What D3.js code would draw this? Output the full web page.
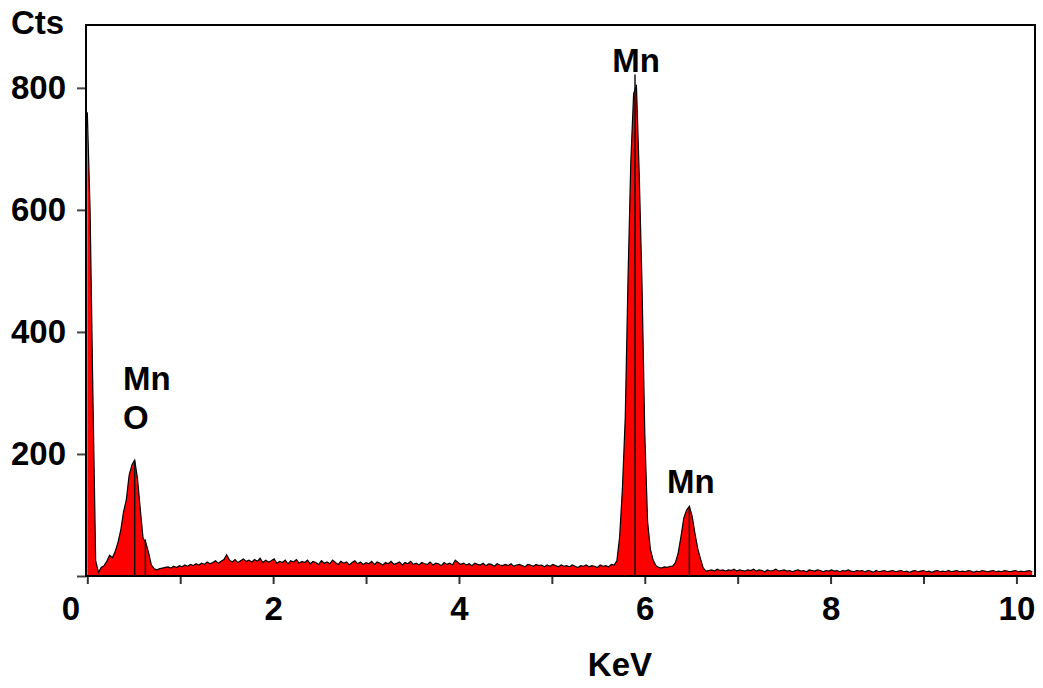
<!DOCTYPE html>
<html>
<head>
<meta charset="utf-8">
<script src="https://cdn.jsdelivr.net/npm/d3@7"></script>
<style>
  html, body { margin: 0; padding: 0; background: #fff; }
  svg { display: block; }
  text { font-family: "Liberation Sans", Arial, sans-serif; font-weight: bold; fill: #000; }
</style>
</head>
<body>
<svg id="chart" width="1043" height="688"></svg>
<script>
// ---- Data ----
const channelWidth = 0.03; // keV per channel
const counts = [
  760, 600, 300, 25, 6, 14, 17, 24, 34, 30,
  40, 55, 75, 105, 125, 165, 182, 190, 160, 110,
  62, 55, 38, 18, 12, 10, 12, 13, 14, 15,
  13, 16, 14, 17, 15, 18, 16, 19, 17, 20,
  18, 21, 19, 23, 20, 22, 25, 21, 24, 27,
  35, 26, 23, 27, 22, 25, 28, 24, 26, 23,
  27, 24, 29, 22, 26, 23, 25, 28, 21, 24,
  22, 26, 20, 25, 23, 27, 21, 24, 22, 26,
  20, 24, 22, 19, 25, 21, 23, 20, 26, 22,
  19, 24, 21, 23, 18, 22, 25, 20, 23, 19,
  22, 20, 24, 19, 23, 21, 18, 22, 20, 24,
  19, 21, 23, 18, 22, 20, 24, 19, 21, 18,
  22, 20, 19, 23, 18, 21, 20, 17, 22, 19,
  21, 18, 26, 22, 19, 21, 18, 20, 17, 21,
  19, 18, 21, 17, 20, 19, 16, 20, 18, 17,
  19, 17, 20, 16, 18, 19, 17, 15, 19, 18,
  16, 19, 17, 18, 15, 18, 16, 19, 17, 15,
  18, 16, 17, 15, 18, 16, 14, 17, 16, 18,
  15, 17, 16, 14, 18, 16, 17, 15, 19, 18,
  25, 65, 145, 260, 490, 680, 790, 805, 660, 480,
  235, 90, 44, 26, 17, 14, 13, 15, 14, 16,
  16, 22, 38, 65, 95, 108, 114, 98, 70, 45,
  28, 13, 8, 9, 10, 8, 11, 9, 10, 8,
  10, 9, 11, 8, 10, 9, 8, 10, 9, 11,
  8, 10, 9, 7, 10, 8, 9, 11, 8, 9,
  10, 8, 9, 7, 9, 10, 8, 9, 7, 10,
  9, 8, 10, 9, 7, 9, 8, 10, 8, 9,
  7, 9, 8, 10, 8, 7, 9, 8, 9, 7,
  9, 8, 6, 9, 7, 8, 9, 7, 8, 9,
  7, 8, 9, 7, 8, 6, 8, 9, 7, 8,
  9, 7, 8, 6, 8, 9, 7, 8, 7, 9,
  7, 8, 9, 7, 8, 7, 9, 8, 6, 8,
  7, 9, 8, 7, 8, 9, 7, 8, 7, 9,
  8, 7, 8, 9, 7, 8, 7, 8, 9, 7
];
// element marker lines (keV, height in counts)
const markerEnergies = [0.51, 0.625, 5.895, 6.48];
const markerHeights = [188, 60, 822, 114];
// peak labels (left edge keV, baseline counts)
const labelTexts = ["Mn", "O", "Mn", "Mn"];
const labelEnergies = [0.384, 0.384, 5.65, 6.24];
const labelCounts = [305, 241, 826, 136];
const xTicks = [0, 1, 2, 3, 4, 5, 6, 7, 8, 9, 10];
const xTickLabels = ["0", "", "2", "", "4", "", "6", "", "8", "", "10"];
const yTicks = [0, 200, 400, 600, 800];
const yTickLabels = ["", "200", "400", "600", "800"];
const xTitle = "KeV";
const yTitle = "Cts";

// ---- Layout ----
const svg = d3.select("#chart");
const padL = 86, padR = 1035, padT = 25, padB = 576;
const x = d3.scaleLinear().domain([-0.014, 10.2]).range([padL, padR]);
const y = d3.scaleLinear().domain([0, 903]).range([padB, padT]);

const data = counts.map((c, i) => ({ e: i * channelWidth, c }));

svg.append("clipPath").attr("id", "plotclip")
  .append("rect").attr("x", padL).attr("y", padT)
  .attr("width", padR - padL).attr("height", padB - padT);

const plot = svg.append("g").attr("clip-path", "url(#plotclip)");

const area = d3.area().x(d => x(d.e)).y0(y(0)).y1(d => y(d.c)).curve(d3.curveLinear);
const line = d3.line().x(d => x(d.e)).y(d => y(d.c)).curve(d3.curveLinear);

plot.append("path").datum(data).attr("d", area).attr("fill", "#ff0000");
plot.append("path").datum(data).attr("d", line)
  .attr("fill", "none").attr("stroke", "#000").attr("stroke-width", 1.2);

// marker lines
plot.selectAll("line.marker").data(markerEnergies).join("line")
  .attr("class", "marker")
  .attr("x1", d => x(d)).attr("x2", d => x(d))
  .attr("y1", y(0)).attr("y2", (d, i) => y(markerHeights[i]))
  .attr("stroke", "#111").attr("stroke-width", 1.5);

// axes
const xAxis = d3.axisBottom(x).tickValues(xTicks).tickSize(8).tickPadding(13)
  .tickFormat((d, i) => xTickLabels[i]);
const gx = svg.append("g").attr("transform", `translate(0,${padB})`).call(xAxis);
gx.select(".domain").remove();
gx.selectAll(".tick line").attr("stroke", "#333").attr("stroke-width", 2);
gx.selectAll(".tick text").style("font-size", "33px").attr("fill", "#000");
gx.selectAll(".tick text").filter(d => d === 0).attr("dx", -17);

const yAxis = d3.axisLeft(y).tickValues(yTicks).tickSize(9).tickPadding(11)
  .tickFormat((d, i) => yTickLabels[i]);
const gy = svg.append("g").attr("transform", `translate(${padL},0)`).call(yAxis);
gy.select(".domain").remove();
gy.selectAll(".tick line").attr("stroke", "#444").attr("stroke-width", 2);
gy.selectAll(".tick text").style("font-size", "33px").attr("fill", "#000");

// frame
svg.append("rect").attr("x", padL).attr("y", padT)
  .attr("width", padR - padL).attr("height", padB - padT)
  .attr("fill", "none").attr("stroke", "#000").attr("stroke-width", 2);

// titles
svg.append("text").attr("x", 11).attr("y", 34).style("font-size", "33px").text(yTitle);
svg.append("text").attr("x", x(5.733)).attr("y", 676).attr("text-anchor", "middle")
  .style("font-size", "33px").text(xTitle);

// peak labels
svg.selectAll("text.peak").data(labelTexts).join("text")
  .attr("class", "peak")
  .attr("x", (d, i) => x(labelEnergies[i])).attr("y", (d, i) => y(labelCounts[i]))
  .attr("text-anchor", "start")
  .style("font-size", "33px").text(d => d);
</script>
</body>
</html>
